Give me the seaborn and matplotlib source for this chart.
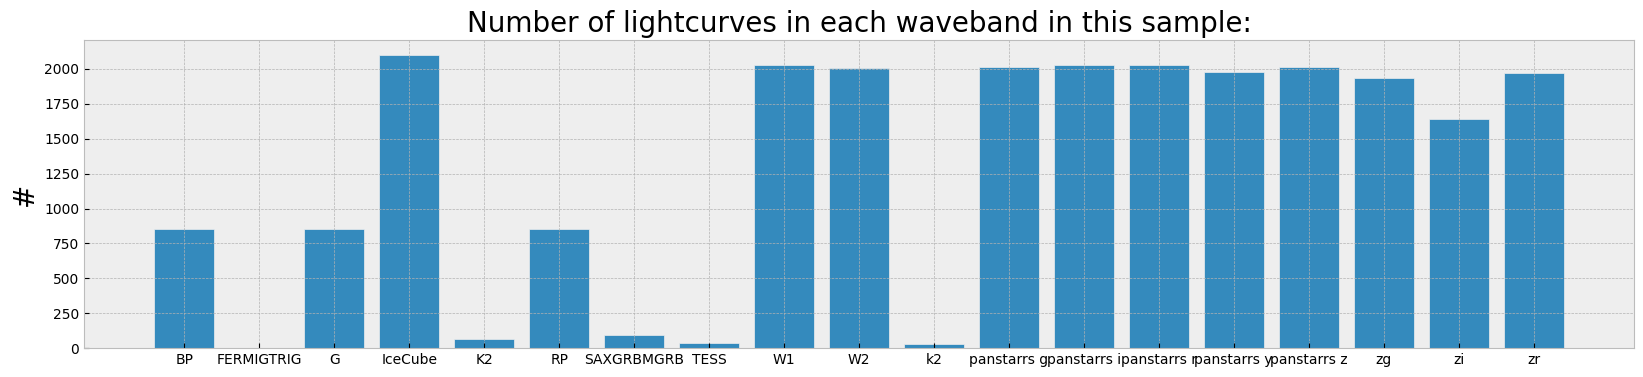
import matplotlib
matplotlib.use("Agg")
import matplotlib.pyplot as plt
import seaborn as sns

bands = ["BP", "FERMIGTRIG", "G", "IceCube", "K2", "RP", "SAXGRBMGRB", "TESS",
         "W1", "W2", "k2", "panstarrs g", "panstarrs i", "panstarrs r",
         "panstarrs y", "panstarrs z", "zg", "zi", "zr"]
counts = [852, 1, 852, 2103, 66, 852, 96, 38,
          2032, 2008, 30, 2017, 2032, 2032,
          1981, 2017, 1938, 1644, 1974]

plt.style.use("bmh")

fig = plt.figure(figsize=(16.43, 3.77), dpi=100)
ax = fig.add_axes([0.0511, 0.0769, 0.9434, 0.8171])

sns.barplot(
    x=bands,
    y=counts,
    color="#348ABD",
    saturation=1,
    width=0.8,
    edgecolor="#eeeeee",
    linewidth=0.5,
    ax=ax,
)

# same padding as plain matplotlib bar (5% margins)
ax.set_xlim(-1.34, 19.34)
ax.set_ylim(0, max(counts) * 1.05)
ax.xaxis.grid(True)
ax.yaxis.grid(True)
ax.set_axisbelow("line")  # grid drawn over the bars, like bmh default
ax.set_title("Number of lightcurves in each waveband in this sample:", fontsize=20)
ax.set_ylabel("#", fontsize=20)
ax.tick_params(labelsize=10)

fig.savefig("out.png", dpi=100)
